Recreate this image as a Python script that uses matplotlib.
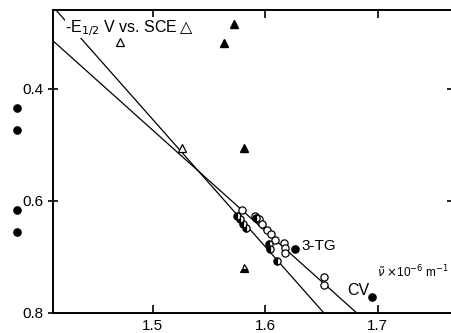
import numpy as np
import matplotlib
matplotlib.use('Agg')
import matplotlib.pyplot as plt

plt.rcParams['font.family'] = ['Liberation Sans Narrow', 'Liberation Sans', 'DejaVu Sans']

##############################################################################
#                               DATA
##############################################################################
# open circles (upper fit line)
open_x = [1.5796, 1.5912, 1.5947, 1.5973, 1.6018, 1.6053, 1.6088, 1.6168,
          1.6177, 1.6177, 1.6522, 1.6522]
open_y = [0.616, 0.627, 0.632, 0.641, 0.652, 0.659, 0.670, 0.675,
          0.684, 0.693, 0.736, 0.750]
# half filled circles (lower fit line)
half_x = [1.5752, 1.5779, 1.5805, 1.5832, 1.5920, 1.6035, 1.6044, 1.6106]
half_y = [0.627, 0.632, 0.641, 0.648, 0.630, 0.677, 0.686, 0.707]
# filled circles: 3-TG, CV and the ones left of the axis
full_x = [1.6265, 1.6947, 1.3796, 1.3796, 1.3796, 1.3796]
full_y = [0.686, 0.771, 0.434, 0.473, 0.616, 0.655]
# triangles
otri_x = [1.4708, 1.5265]
otri_y = [0.316, 0.505]
ftri_x = [1.5726, 1.5637, 1.5814]
ftri_y = [0.284, 0.318, 0.505]
htri_x = [1.5814]
htri_y = [0.720]
# the two fit lines (end points)
lineS_x = [1.4150, 1.6522];   lineS_y = [0.261, 0.8]
lineT_x = [1.4115, 1.6814];   lineT_y = [0.314, 0.8]

xticks = [1.5, 1.6, 1.7]
yticks = [0.4, 0.6, 0.8]

##############################################################################
#                               PLOTTING
##############################################################################
fig = plt.figure(figsize=(4.51, 3.33), dpi=100, facecolor='white')
ax = fig.add_axes([53/451, 20/333, 399/451, 303/333])

ax.plot(lineS_x, lineS_y, 'k-', linewidth=0.9, zorder=2)
ax.plot(lineT_x, lineT_y, 'k-', linewidth=0.9, zorder=2)

ms = 5.2
ax.plot(open_x, open_y, 'o', ms=ms, mfc='white', mec='k', mew=0.9, ls='none', zorder=3)
ax.plot(half_x, half_y, 'o', ms=ms, fillstyle='left', mfc='k', mfcalt='white',
        mec='k', mew=0.9, ls='none', zorder=3)
ax.plot(full_x, full_y, 'o', ms=ms, color='k', ls='none', zorder=3, clip_on=False)
ax.plot(otri_x, otri_y, '^', ms=6, mfc='white', mec='k', mew=0.9, ls='none', zorder=5)
ax.plot(ftri_x, ftri_y, '^', ms=6, color='k', ls='none', zorder=3)
ax.plot(htri_x, htri_y, '^', ms=6, fillstyle='bottom', mfc='k', mfcalt='white',
        mec='k', mew=0.9, ls='none', zorder=3)

ax.set_xlim(1.4115, 1.766)
ax.set_ylim(0.8, 0.259)
ax.set_xticks(xticks)
ax.set_yticks(yticks)
ax.set_xticklabels(['1.5', '1.6', '1.7'])
ax.set_yticklabels(['0.4', '0.6', '0.8'])
ax.tick_params(axis='x', direction='in', length=6, width=1.2, top=True,
               labelsize=11, pad=4)
ax.tick_params(axis='y', direction='inout', length=7, width=1.2, right=True,
               labelsize=11, pad=3)
for s in ax.spines.values():
    s.set_linewidth(1.4)

ax.text(0.031, 0.975, r'-E$_{1/2}$ V vs. SCE$\triangle$', transform=ax.transAxes,
        fontsize=11.5, va='top', ha='left', zorder=4,
        bbox=dict(facecolor='white', edgecolor='none', pad=0.5))
ax.text(1.632, 0.680, '3-TG', fontsize=11, va='center', ha='left', zorder=4)
ax.text(1.673, 0.759, 'CV', fontsize=11.5, va='center', ha='left', zorder=4)
ax.text(1.699, 0.727, r'$\tilde{\nu}$ $\times$10$^{-6}$ m$^{-1}$', fontsize=8.5,
        va='center', ha='left', zorder=4)

plt.savefig('out.png', dpi=100, facecolor='white')
